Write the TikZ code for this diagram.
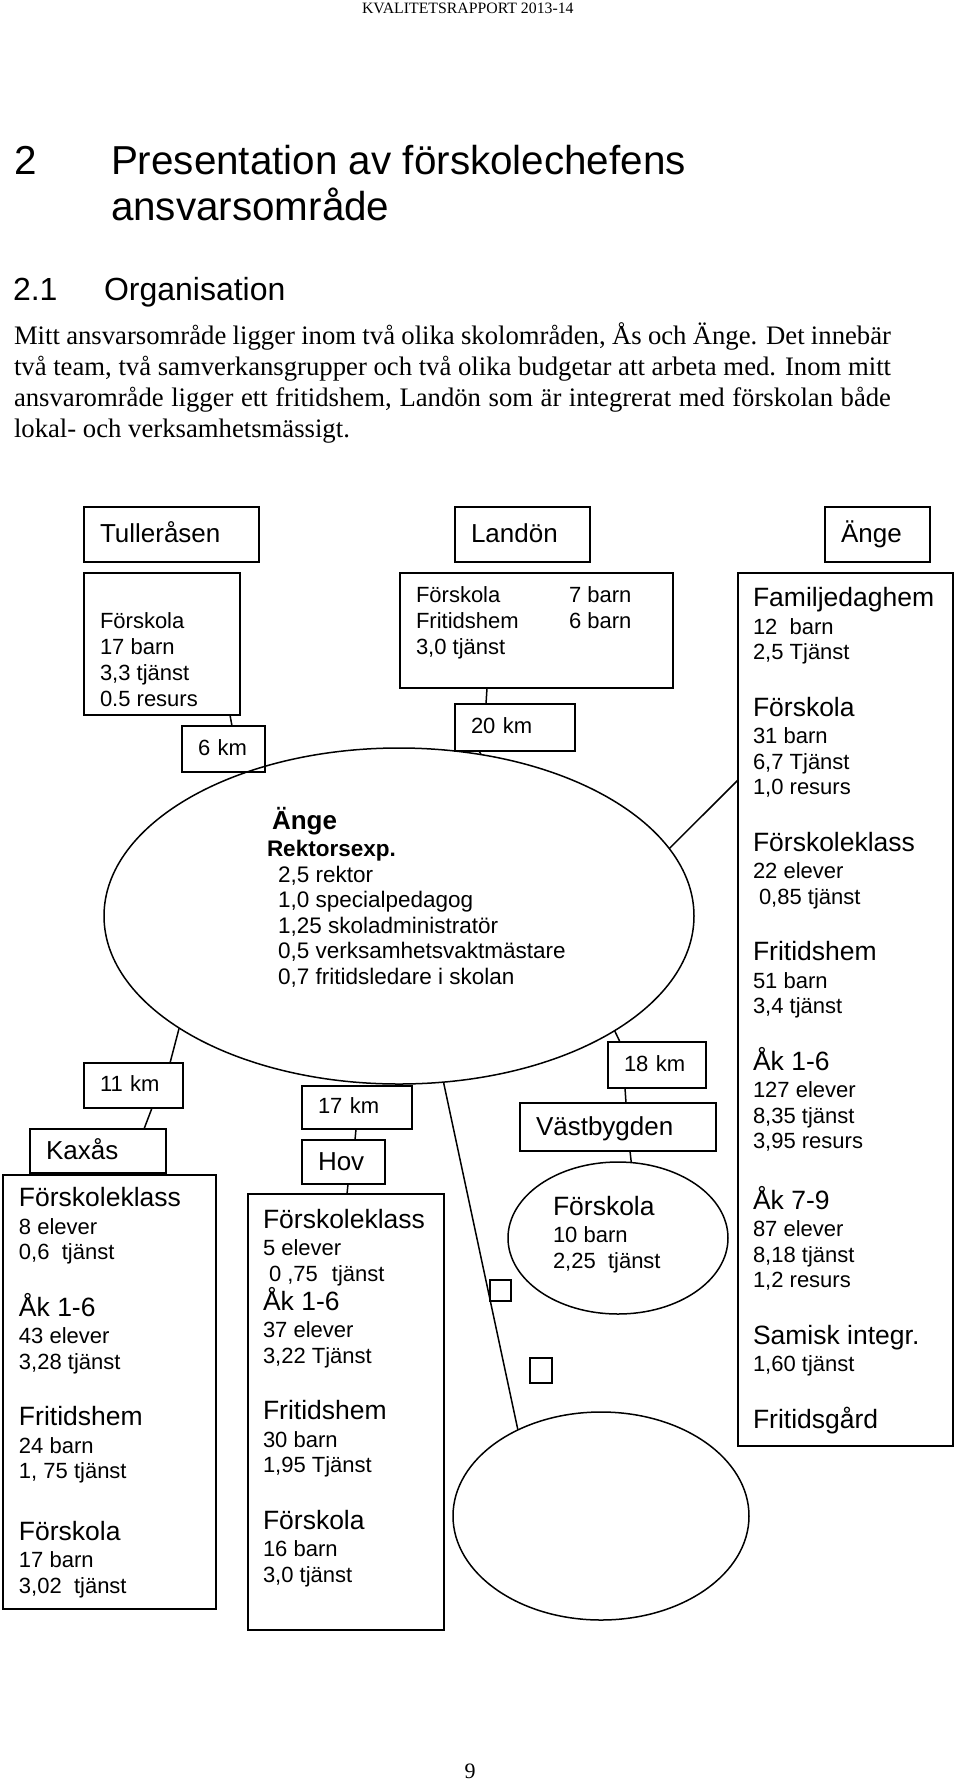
\documentclass[tikz,border=0pt]{standalone}
\usepackage{fontspec}
\setmainfont{Liberation Sans}
\newfontfamily\timesfont{Liberation Serif}
\usetikzlibrary{positioning,shapes.geometric}

\newcommand{\grp}[1]{{\fontsize{26.5}{26.5}\selectfont #1}}
\newcommand{\tightlines}{\lineskiplimit=-40pt\relax}

\begin{document}
\begin{tikzpicture}[
    x=1pt, y=-1pt,
    every node/.style={inner sep=0pt, outer sep=0pt},
    frame/.style={draw, line width=1.5pt},
    tag/.style={frame, inner xsep=16pt, align=left, font=\fontsize{22}{24}\selectfont, text height=16pt, text depth=3.5pt},
    place/.style={tag, font=\fontsize{26}{28}\selectfont, text height=19pt, text depth=3pt},
    oval/.style={frame, ellipse},
    info/.style={anchor=base west, align=left, font=\fontsize{22}{25.5}\selectfont\tightlines},
    wire/.style={line width=1.5pt}
]
\useasboundingbox (0,0) rectangle (960,1781);

% page head (multi-line nodes sit on their last baseline)
\node[anchor=base west, font=\timesfont\fontsize{15.8}{16}\selectfont] (report) at (362,13.5) {KVALITETSRAPPORT 2013-14};
\node[anchor=base west, font=\fontsize{40.4}{46}\selectfont] (chapnum) at (14,174) {2};
\node[anchor=base west, align=left, font=\fontsize{40.4}{46}\selectfont] (chaptitle) at (111,220) {Presentation av förskolechefens\\ansvarsområde};
\node[anchor=base west, font=\fontsize{32}{34}\selectfont] (secnum) at (13,300) {2.1};
\node[anchor=base west, font=\fontsize{32}{34}\selectfont] (sectitle) at (104,300) {Organisation};
\node[anchor=base west, align=left, font=\timesfont\fontsize{26.7}{31}\selectfont] (intro) at (14,437) {%
  \makebox[877pt][s]{Mitt ansvarsområde ligger inom två olika skolområden, Ås och Änge. Det innebär}\\
  \makebox[877pt][s]{två team, två samverkansgrupper och två olika budgetar att arbeta med. Inom mitt}\\
  \makebox[877pt][s]{ansvarområde ligger ett fritidshem, Landön som är integrerat med förskolan både}\\
  lokal- och verksamhetsmässigt.};

% top row
\node[place, text width=143pt, minimum height=55pt] (tull) at (171.5,534.5) {Tulleråsen};
\node[place, text width=103pt, minimum height=55pt] (landon) at (522.5,534.5) {Landön};
\node[place, text width=73pt, minimum height=55pt] (angehd) at (877.5,534.5) {Änge};

\node[frame, minimum width=156pt, minimum height=142pt] (tullfsk) at (162,644) {};
\node[info, font=\fontsize{22}{26}\selectfont] (tulltxt) at (100,706) {Förskola\\17 barn\\3,3 tjänst\\0.5 resurs};
\node[tag, text width=51pt, minimum height=46pt] (km6) at (223.5,749) {6 km};

\node[frame, minimum width=273pt, minimum height=115pt] (landfsk) at (536.5,630.5) {};
\node[info, font=\fontsize{22}{26}\selectfont] (landtxt) at (416,654) {Förskola\\Fritidshem\\3,0 tjänst};
\node[info, font=\fontsize{22}{26}\selectfont] (landbarn) at (569,628) {7 barn\\6 barn};
\node[tag, text width=88pt, minimum height=47pt] (km20) at (515,727.5) {20 km};

\node[frame, minimum width=215pt, minimum height=873pt] (angebig) at (845.5,1009.5) {};
\node[info] (angetxt) at (753,1428) {\grp{Familjedaghem}\\[2pt]
  12~ barn\\ 2,5 Tjänst\\[31pt]
  \grp{Förskola}\\[2pt] 31 barn\\ 6,7 Tjänst\\ 1,0 resurs\\[31pt]
  \grp{Förskoleklass}\\[2pt] 22 elever\\ \hspace*{6pt}0,85 tjänst\\[31pt]
  \grp{Fritidshem}\\[2pt] 51 barn\\ 3,4 tjänst\\[31pt]
  \grp{Åk 1-6}\\[2pt] 127 elever\\ 8,35 tjänst\\ 3,95 resurs\\[35pt]
  \grp{Åk 7-9}\\[2pt] 87 elever\\ 8,18 tjänst\\ 1,2 resurs\\[31pt]
  \grp{Samisk integr.}\\[2pt] 1,60 tjänst\\[31pt]
  \grp{Fritidsgård}};

% centre
\node[oval, minimum width=590pt, minimum height=336pt] (rektor) at (399,916) {};
\node[info, font=\fontsize{22.5}{25.5}\selectfont\tightlines] (rektortxt) at (267,984) {\hspace*{5pt}{\bfseries\fontsize{26}{26}\selectfont Änge}\\[1.5pt]
  {\bfseries Rektorsexp.}\\
  \hspace*{11pt}2,5 rektor\\
  \hspace*{11pt}1,0 specialpedagog\\
  \hspace*{11pt}1,25 skoladministratör\\
  \hspace*{11pt}0,5 verksamhetsvaktmästare\\
  \hspace*{11pt}0,7 fritidsledare i skolan};

% lower row
\node[tag, text width=67pt, minimum height=45pt] (km11) at (133.5,1085.5) {11 km};
\node[place, text width=104pt, minimum height=44pt] (kaxas) at (98,1151) {Kaxås};
\node[frame, minimum width=213pt, minimum height=434pt] (kaxbig) at (109.5,1392) {};
\node[info] (kaxtxt) at (19,1593) {\grp{Förskoleklass}\\[2pt] 8 elever\\ 0,6~ tjänst\\[31pt]
  \grp{Åk 1-6}\\[2pt] 43 elever\\ 3,28 tjänst\\[31pt]
  \grp{Fritidshem}\\[2pt] 24 barn\\ 1, 75 tjänst\\[36pt]
  \grp{Förskola}\\[2pt] 17 barn\\ 3,02~ tjänst};

\node[tag, text width=78pt, minimum height=43pt] (km17) at (357,1107.5) {17 km};
\node[place, text width=51pt, minimum height=44pt] (hov) at (343.5,1162) {Hov};
\node[frame, minimum width=196pt, minimum height=436pt] (hovbig) at (346,1412) {};
\node[info] (hovtxt) at (263,1582) {\grp{Förskoleklass}\\[2pt] 5 elever\\ \hspace*{6pt}0 ,75\hspace*{14pt}tjänst\\[3.5pt]
  \grp{Åk 1-6}\\[2pt] 37 elever\\ 3,22 Tjänst\\[31pt]
  \grp{Fritidshem}\\[2pt] 30 barn\\ 1,95 Tjänst\\[31pt]
  \grp{Förskola}\\[2pt] 16 barn\\ 3,0 tjänst};

\node[tag, text width=66pt, minimum height=46pt] (km18) at (657,1065) {18 km};
\node[place, text width=164pt, minimum height=48pt] (vast) at (618,1127) {Västbygden};
\node[oval, minimum width=220pt, minimum height=152pt] (vastfsk) at (618,1238) {};
\node[info] (vasttxt) at (553,1268) {\grp{Förskola}\\[1.5pt] 10 barn\\ 2,25~ tjänst};

\node[frame, line width=1.2pt, minimum width=21pt, minimum height=21pt] (sqa) at (500.5,1290.5) {};
\node[frame, line width=1.2pt, minimum width=22pt, minimum height=25pt] (sqb) at (541,1370.5) {};
\node[oval, minimum width=296pt, minimum height=208pt] (blank) at (601,1516) {};

\node[anchor=base, font=\timesfont\fontsize{22}{24}\selectfont] (pagenum) at (470,1778) {9};

% links
\draw[wire] ([xshift=68pt]tullfsk.south) -- ([xshift=8.5pt]km6.north);
\draw[wire] ([xshift=-49.5pt]landfsk.south) -- ([xshift=-29pt]km20.north);
\draw[wire] ([xshift=-36pt]km20.south) -- (rektor.63.7);
\draw[wire] (rektor.14.1) -- ([yshift=229.5pt]angebig.west);
\draw[wire] (rektor.207.8) -- ([xshift=36.5pt]km11.north);
\draw[wire] ([xshift=18.5pt]km11.south) -- ([xshift=46pt]kaxas.north);
\draw[wire] ([xshift=28pt]kaxas.south) -- ([xshift=16.5pt]kaxbig.north);
\draw[wire] ([xshift=-1pt]km17.south) -- ([xshift=11.5pt]hov.north);
\draw[wire] ([xshift=4.5pt]hov.south) -- ([xshift=1pt]hovbig.north);
\draw[wire] (rektor.332.7) -- ([xshift=-37pt]km18.north);
\draw[wire] ([xshift=-32pt]km18.south) -- ([xshift=8pt]vast.north);
\draw[wire] ([xshift=12pt]vast.south) -- (vastfsk.80.9);
\draw[wire] (rektor.285.2) -- (blank.134.7);
\end{tikzpicture}
\end{document}
